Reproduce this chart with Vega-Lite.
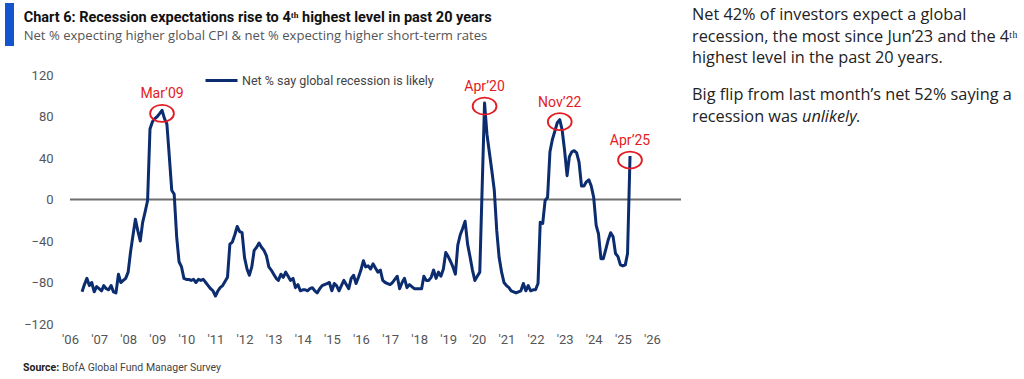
{
  "$schema": "https://vega.github.io/schema/vega-lite/v6.json",
  "background": "white",
  "padding": {"left": 5, "top": 3, "right": 0, "bottom": 0},
  "autosize": {"type": "pad"},
  "datasets": {
    "series": [
      {"date": "2006-06-01", "value": -89}, {"date": "2006-07-01", "value": -82}, {"date": "2006-08-01", "value": -76},
      {"date": "2006-09-01", "value": -83}, {"date": "2006-10-01", "value": -80}, {"date": "2006-11-01", "value": -89},
      {"date": "2006-12-01", "value": -84}, {"date": "2007-01-01", "value": -86}, {"date": "2007-02-01", "value": -88},
      {"date": "2007-03-01", "value": -83}, {"date": "2007-04-01", "value": -86}, {"date": "2007-05-01", "value": -87},
      {"date": "2007-06-01", "value": -83}, {"date": "2007-07-01", "value": -89}, {"date": "2007-08-01", "value": -90},
      {"date": "2007-09-01", "value": -72}, {"date": "2007-10-01", "value": -80}, {"date": "2007-11-01", "value": -78},
      {"date": "2007-12-01", "value": -76}, {"date": "2008-01-01", "value": -70}, {"date": "2008-02-01", "value": -50},
      {"date": "2008-03-01", "value": -35}, {"date": "2008-04-01", "value": -19}, {"date": "2008-05-01", "value": -30},
      {"date": "2008-06-01", "value": -40}, {"date": "2008-07-01", "value": -22}, {"date": "2008-08-01", "value": -12},
      {"date": "2008-09-01", "value": -1}, {"date": "2008-10-01", "value": 68}, {"date": "2008-11-01", "value": 75},
      {"date": "2008-12-01", "value": 78}, {"date": "2009-01-01", "value": 80}, {"date": "2009-02-01", "value": 83},
      {"date": "2009-03-01", "value": 86}, {"date": "2009-04-01", "value": 78}, {"date": "2009-05-01", "value": 73},
      {"date": "2009-06-01", "value": 41}, {"date": "2009-07-01", "value": 9}, {"date": "2009-08-01", "value": 5},
      {"date": "2009-09-01", "value": -36}, {"date": "2009-10-01", "value": -60}, {"date": "2009-11-01", "value": -65},
      {"date": "2009-12-01", "value": -76}, {"date": "2010-01-01", "value": -77}, {"date": "2010-02-01", "value": -77},
      {"date": "2010-03-01", "value": -78}, {"date": "2010-04-01", "value": -77}, {"date": "2010-05-01", "value": -80},
      {"date": "2010-06-01", "value": -77}, {"date": "2010-07-01", "value": -78}, {"date": "2010-08-01", "value": -77},
      {"date": "2010-09-01", "value": -80}, {"date": "2010-10-01", "value": -83}, {"date": "2010-11-01", "value": -86},
      {"date": "2010-12-01", "value": -88}, {"date": "2011-01-01", "value": -93}, {"date": "2011-02-01", "value": -88},
      {"date": "2011-03-01", "value": -85}, {"date": "2011-04-01", "value": -83}, {"date": "2011-05-01", "value": -79},
      {"date": "2011-06-01", "value": -75}, {"date": "2011-07-01", "value": -43}, {"date": "2011-08-01", "value": -41},
      {"date": "2011-09-01", "value": -34}, {"date": "2011-10-01", "value": -26}, {"date": "2011-11-01", "value": -31},
      {"date": "2011-12-01", "value": -32}, {"date": "2012-01-01", "value": -56}, {"date": "2012-02-01", "value": -67},
      {"date": "2012-03-01", "value": -73}, {"date": "2012-04-01", "value": -65}, {"date": "2012-05-01", "value": -49},
      {"date": "2012-06-01", "value": -46}, {"date": "2012-07-01", "value": -42}, {"date": "2012-08-01", "value": -46},
      {"date": "2012-09-01", "value": -49}, {"date": "2012-10-01", "value": -54}, {"date": "2012-11-01", "value": -65},
      {"date": "2012-12-01", "value": -68}, {"date": "2013-01-01", "value": -72}, {"date": "2013-02-01", "value": -76},
      {"date": "2013-03-01", "value": -78}, {"date": "2013-04-01", "value": -72}, {"date": "2013-05-01", "value": -75},
      {"date": "2013-06-01", "value": -70}, {"date": "2013-07-01", "value": -74}, {"date": "2013-08-01", "value": -78},
      {"date": "2013-09-01", "value": -76}, {"date": "2013-10-01", "value": -85}, {"date": "2013-11-01", "value": -82},
      {"date": "2013-12-01", "value": -88}, {"date": "2014-01-01", "value": -87}, {"date": "2014-02-01", "value": -87},
      {"date": "2014-03-01", "value": -88}, {"date": "2014-04-01", "value": -86}, {"date": "2014-05-01", "value": -85},
      {"date": "2014-06-01", "value": -88}, {"date": "2014-07-01", "value": -90}, {"date": "2014-08-01", "value": -86},
      {"date": "2014-09-01", "value": -83}, {"date": "2014-10-01", "value": -82}, {"date": "2014-11-01", "value": -81},
      {"date": "2014-12-01", "value": -80}, {"date": "2015-01-01", "value": -88}, {"date": "2015-02-01", "value": -81},
      {"date": "2015-03-01", "value": -83}, {"date": "2015-04-01", "value": -88}, {"date": "2015-05-01", "value": -83},
      {"date": "2015-06-01", "value": -78}, {"date": "2015-07-01", "value": -82}, {"date": "2015-08-01", "value": -86},
      {"date": "2015-09-01", "value": -76}, {"date": "2015-10-01", "value": -73}, {"date": "2015-11-01", "value": -81},
      {"date": "2015-12-01", "value": -75}, {"date": "2016-01-01", "value": -68}, {"date": "2016-02-01", "value": -59},
      {"date": "2016-03-01", "value": -65}, {"date": "2016-04-01", "value": -64}, {"date": "2016-05-01", "value": -67},
      {"date": "2016-06-01", "value": -62}, {"date": "2016-07-01", "value": -66}, {"date": "2016-08-01", "value": -70},
      {"date": "2016-09-01", "value": -68}, {"date": "2016-10-01", "value": -78}, {"date": "2016-11-01", "value": -80},
      {"date": "2016-12-01", "value": -81}, {"date": "2017-01-01", "value": -82}, {"date": "2017-02-01", "value": -80},
      {"date": "2017-03-01", "value": -77}, {"date": "2017-04-01", "value": -74}, {"date": "2017-05-01", "value": -86},
      {"date": "2017-06-01", "value": -80}, {"date": "2017-07-01", "value": -76}, {"date": "2017-08-01", "value": -85},
      {"date": "2017-09-01", "value": -82}, {"date": "2017-10-01", "value": -84}, {"date": "2017-11-01", "value": -86},
      {"date": "2017-12-01", "value": -86}, {"date": "2018-01-01", "value": -86}, {"date": "2018-02-01", "value": -86},
      {"date": "2018-03-01", "value": -74}, {"date": "2018-04-01", "value": -78}, {"date": "2018-05-01", "value": -78},
      {"date": "2018-06-01", "value": -75}, {"date": "2018-07-01", "value": -68}, {"date": "2018-08-01", "value": -76},
      {"date": "2018-09-01", "value": -70}, {"date": "2018-10-01", "value": -74}, {"date": "2018-11-01", "value": -67},
      {"date": "2018-12-01", "value": -51}, {"date": "2019-01-01", "value": -55}, {"date": "2019-02-01", "value": -60},
      {"date": "2019-03-01", "value": -65}, {"date": "2019-04-01", "value": -72}, {"date": "2019-05-01", "value": -44},
      {"date": "2019-06-01", "value": -34}, {"date": "2019-07-01", "value": -28}, {"date": "2019-08-01", "value": -21},
      {"date": "2019-09-01", "value": -43}, {"date": "2019-10-01", "value": -55}, {"date": "2019-11-01", "value": -68},
      {"date": "2019-12-01", "value": -78}, {"date": "2020-01-01", "value": -74}, {"date": "2020-02-01", "value": -70},
      {"date": "2020-03-01", "value": 9}, {"date": "2020-04-01", "value": 93}, {"date": "2020-05-01", "value": 63},
      {"date": "2020-06-01", "value": 45}, {"date": "2020-07-01", "value": 28}, {"date": "2020-08-01", "value": 9},
      {"date": "2020-09-01", "value": -30}, {"date": "2020-10-01", "value": -56}, {"date": "2020-11-01", "value": -70},
      {"date": "2020-12-01", "value": -80}, {"date": "2021-01-01", "value": -83}, {"date": "2021-02-01", "value": -85},
      {"date": "2021-03-01", "value": -88}, {"date": "2021-04-01", "value": -89}, {"date": "2021-05-01", "value": -90},
      {"date": "2021-06-01", "value": -89}, {"date": "2021-07-01", "value": -88}, {"date": "2021-08-01", "value": -81},
      {"date": "2021-09-01", "value": -88}, {"date": "2021-10-01", "value": -83}, {"date": "2021-11-01", "value": -88},
      {"date": "2021-12-01", "value": -87}, {"date": "2022-01-01", "value": -87}, {"date": "2022-02-01", "value": -81},
      {"date": "2022-03-01", "value": -22}, {"date": "2022-04-01", "value": -23}, {"date": "2022-05-01", "value": -1},
      {"date": "2022-06-01", "value": 2}, {"date": "2022-07-01", "value": 46}, {"date": "2022-08-01", "value": 58},
      {"date": "2022-09-01", "value": 66}, {"date": "2022-10-01", "value": 74}, {"date": "2022-11-01", "value": 77},
      {"date": "2022-12-01", "value": 67}, {"date": "2023-01-01", "value": 47}, {"date": "2023-02-01", "value": 23},
      {"date": "2023-03-01", "value": 41}, {"date": "2023-04-01", "value": 46}, {"date": "2023-05-01", "value": 47},
      {"date": "2023-06-01", "value": 45}, {"date": "2023-07-01", "value": 36}, {"date": "2023-08-01", "value": 13},
      {"date": "2023-09-01", "value": 13}, {"date": "2023-10-01", "value": 17}, {"date": "2023-11-01", "value": 19},
      {"date": "2023-12-01", "value": 13}, {"date": "2024-01-01", "value": 2}, {"date": "2024-02-01", "value": -25},
      {"date": "2024-03-01", "value": -33}, {"date": "2024-04-01", "value": -57}, {"date": "2024-05-01", "value": -57},
      {"date": "2024-06-01", "value": -48}, {"date": "2024-07-01", "value": -39}, {"date": "2024-08-01", "value": -32},
      {"date": "2024-09-01", "value": -36}, {"date": "2024-10-01", "value": -52}, {"date": "2024-11-01", "value": -55},
      {"date": "2024-12-01", "value": -63}, {"date": "2025-01-01", "value": -64}, {"date": "2025-02-01", "value": -63},
      {"date": "2025-03-01", "value": -52}, {"date": "2025-04-01", "value": 42}
    ],
    "peaks": [
      {"date": "2009-03-01", "value": 83, "label": "Mar’09"},
      {"date": "2020-04-01", "value": 90, "label": "Apr’20"},
      {"date": "2022-11-01", "value": 75, "label": "Nov’22"},
      {"date": "2025-04-01", "value": 38, "label": "Apr’25"}
    ],
    "notes": [
      {"para": 1, "kind": "normal", "text": "Net 42% of investors expect a global\nrecession, the most since Jun’23 and the 4ᵗʰ\nhighest level in the past 20 years."},
      {"para": 2, "kind": "normal", "text": "Big flip from last month’s net 52% saying a\nrecession was"},
      {"para": 2, "kind": "italic", "text": "unlikely."}
    ],
    "source": [
      {"kind": "bold", "text": "Source:"},
      {"kind": "normal", "text": "BofA Global Fund Manager Survey"}
    ]
  },
  "vconcat": [
    {
      "hconcat": [
        {
          "width": 9,
          "height": 1,
          "data": {"values": [{}]},
          "mark": {"type": "rect", "color": "#1454cc"},
          "encoding": {
            "x": {"datum": 0, "type": "quantitative", "scale": {"domain": [0, 1]}, "axis": null},
            "x2": {"datum": 1},
            "y": {"datum": 0, "type": "quantitative", "scale": {"domain": [0, 1], "range": [-72, -29]}, "axis": null},
            "y2": {"datum": 1}
          }
        },
        {
          "width": 611,
          "height": 249,
          "title": {
            "text": "Chart 6: Recession expectations rise to 4ᵗʰ highest level in past 20 years",
            "subtitle": "Net % expecting higher global CPI & net % expecting higher short-term rates",
            "anchor": "start",
            "frame": "bounds",
            "dx": 0,
            "offset": 25,
            "font": "Roboto",
            "fontSize": 14.5,
            "fontWeight": "bold",
            "color": "#111111",
            "subtitleFont": "Open Sans",
            "subtitleFontSize": 13.1,
            "subtitleColor": "#555555",
            "subtitlePadding": 4
          },
          "layer": [
            {
              "data": {"values": [{}]},
              "mark": {"type": "rule", "color": "#6e6e6e", "strokeWidth": 2},
              "encoding": {"y": {"datum": 0, "type": "quantitative"}}
            },
            {
              "data": {"name": "series"},
              "mark": {"type": "line", "strokeWidth": 3, "strokeJoin": "round"},
              "encoding": {
                "x": {
                  "field": "date",
                  "type": "temporal",
                  "scale": {"domain": [{"year": 2006, "month": 1, "date": 1}, {"year": 2027, "month": 1, "date": 1}]},
                  "axis": {
                    "title": null,
                    "tickCount": {"interval": "year", "step": 1},
                    "labelExpr": "year(datum.value) > 2026 ? '' : timeFormat(datum.value, \"'%y\")",
                    "domain": false,
                    "ticks": false,
                    "grid": false,
                    "labelFont": "Roboto",
                    "labelFontSize": 13,
                    "labelColor": "#555555",
                    "labelPadding": 9,
                    "labelFlush": false,
                    "labelOverlap": false,
                    "labelBound": false
                  }
                },
                "y": {
                  "field": "value",
                  "type": "quantitative",
                  "scale": {"domain": [-120, 120], "nice": false},
                  "axis": {
                    "title": null,
                    "values": [-120, -80, -40, 0, 40, 80, 120],
                    "domain": false,
                    "ticks": false,
                    "grid": false,
                    "labelFont": "Roboto",
                    "labelFontSize": 13,
                    "labelColor": "#555555",
                    "labelPadding": 17
                  }
                },
                "color": {
                  "datum": "Net % say global recession is likely",
                  "scale": {"range": ["#0b2c6e"]},
                  "legend": {
                    "orient": "none",
                    "legendX": 199,
                    "legendY": -12,
                    "title": null,
                    "padding": 0,
                    "symbolType": "stroke",
                    "symbolSize": 1024,
                    "symbolStrokeWidth": 3,
                    "labelFont": "Roboto",
                    "labelFontSize": 12.5,
                    "labelColor": "#444444",
                    "labelOffset": 3,
                    "labelLimit": 400
                  }
                }
              }
            },
            {
              "data": {"name": "peaks"},
              "mark": {
                "type": "point",
                "shape": "M-1.4,0C-1.4,-0.5523,-0.7732,-1,0,-1C0.7732,-1,1.4,-0.5523,1.4,0C1.4,0.5523,0.7732,1,0,1C-0.7732,1,-1.4,0.5523,-1.4,0Z",
                "size": 289,
                "filled": false,
                "stroke": "#e31b23",
                "strokeWidth": 1.8,
                "opacity": 1
              },
              "encoding": {
                "x": {"field": "date", "type": "temporal"},
                "y": {"field": "value", "type": "quantitative"}
              }
            },
            {
              "data": {"name": "peaks"},
              "mark": {"type": "text", "font": "Roboto", "fontSize": 14, "color": "#e31b23", "baseline": "middle", "dy": -19},
              "encoding": {
                "x": {"field": "date", "type": "temporal"},
                "y": {"field": "value", "type": "quantitative"},
                "text": {"field": "label"}
              }
            }
          ]
        },
        {
          "width": 330,
          "height": 1,
          "data": {"name": "notes"},
          "layer": [
            {
              "transform": [{"filter": "datum.kind == 'normal'"}],
              "mark": {"type": "text", "align": "left", "baseline": "top", "font": "Open Sans", "fontSize": 16.3, "lineHeight": 21.5, "lineBreak": "\n", "color": "#222222", "dx": 1},
              "encoding": {
                "x": {"datum": 0, "type": "quantitative", "scale": {"domain": [0, 1]}, "axis": null},
                "y": {"field": "para", "type": "ordinal", "scale": {"type": "point", "padding": 0, "range": [-68, 12]}, "axis": null},
                "text": {"field": "text"}
              }
            },
            {
              "transform": [{"filter": "datum.kind == 'italic'"}],
              "mark": {"type": "text", "align": "left", "baseline": "top", "font": "Open Sans", "fontSize": 16.3, "fontStyle": "italic", "color": "#222222", "dx": 111, "dy": 21.5},
              "encoding": {
                "x": {"datum": 0, "type": "quantitative", "scale": {"domain": [0, 1]}, "axis": null},
                "y": {"field": "para", "type": "ordinal", "scale": {"type": "point", "padding": 0, "range": [-68, 12]}, "axis": null},
                "text": {"field": "text"}
              }
            }
          ]
        }
      ],
      "spacing": 9
    },
    {
      "width": 300,
      "height": 12,
      "data": {"name": "source"},
      "layer": [
        {
          "transform": [{"filter": "datum.kind == 'bold'"}],
          "mark": {"type": "text", "align": "left", "baseline": "top", "font": "Roboto", "fontSize": 10.5, "fontWeight": "bold", "color": "#222222", "dx": 18},
          "encoding": {
            "x": {"datum": 0, "type": "quantitative", "scale": {"domain": [0, 1]}, "axis": null},
            "text": {"field": "text"}
          }
        },
        {
          "transform": [{"filter": "datum.kind == 'normal'"}],
          "mark": {"type": "text", "align": "left", "baseline": "top", "font": "Roboto", "fontSize": 10.5, "color": "#444444", "dx": 57},
          "encoding": {
            "x": {"datum": 0, "type": "quantitative", "scale": {"domain": [0, 1]}, "axis": null},
            "text": {"field": "text"}
          }
        }
      ]
    }
  ],
  "spacing": 11,
  "config": {
    "view": {"stroke": null},
    "axis": {"labelOverlap": false}
  }
}
